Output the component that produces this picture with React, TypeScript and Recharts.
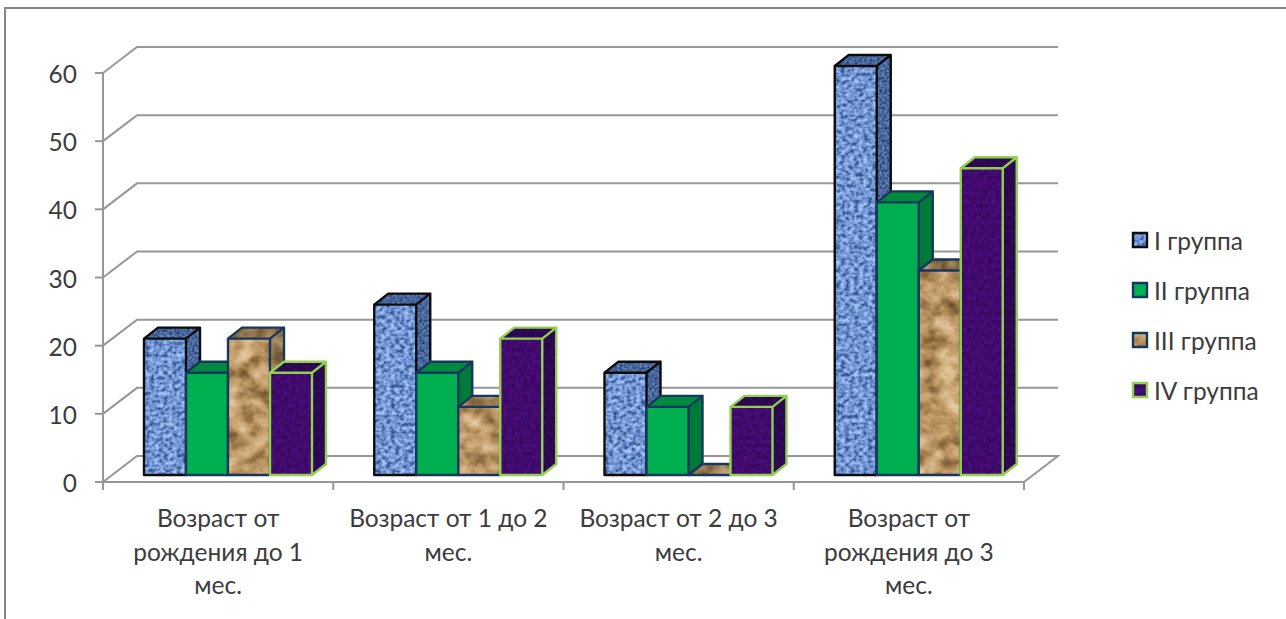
import { BarChart, Bar, XAxis, YAxis, CartesianGrid, Legend } from 'recharts';

const categoryLines = [
  ['Возраст от', 'рождения до 1', 'мес.'],
  ['Возраст от 1 до 2', 'мес.'],
  ['Возраст от 2 до 3', 'мес.'],
  ['Возраст от', 'рождения до 3', 'мес.'],
];
const categories = categoryLines.map(lines => lines.join(' '));

const groupOne = [20, 25, 15, 60];
const groupTwo = [15, 15, 10, 40];
const groupThree = [20, 10, 0, 30];
const groupFour = [15, 20, 10, 45];

const yTicks = [0, 10, 20, 30, 40, 50, 60];

const chartData = categories.map((name, i) => ({
  name,
  one: groupOne[i],
  two: groupTwo[i],
  three: groupThree[i],
  four: groupFour[i],
}));

const FONT = "Lato, 'Open Sans', sans-serif";
const FONT_SIZE = 24.5;
const TEXT = '#3c3c3c';
const AXIS = '#979797';
const FLOOR_Y = 482;

// perspective of the box: back wall relative to the axes, bars relative to the axes
const WALL_DX = 34;
const WALL_DY = -26;
const BAR_DX = 10;
const BAR_DY = -7;
const DEPTH_DX = 14;
const DEPTH_DY = -11;

type Faces = { front: string; side: string; top: string; stroke: string };

const series: { key: string; label: string; faces: Faces }[] = [
  { key: 'one', label: 'I группа', faces: { front: 'url(#denim)', side: 'url(#denimDark)', top: 'url(#denimDark)', stroke: '#0c0c0c' } },
  { key: 'two', label: 'II группа', faces: { front: '#00b050', side: '#007a38', top: '#008a3e', stroke: '#17375e' } },
  { key: 'three', label: 'III группа', faces: { front: 'url(#paper)', side: 'url(#paperDark)', top: 'url(#paperDark)', stroke: '#17375e' } },
  { key: 'four', label: 'IV группа', faces: { front: 'url(#velvet)', side: 'url(#velvetDark)', top: 'url(#velvetDark)', stroke: '#92d050' } },
];

function hexChannel(hex: string, start: number) {
  return (parseInt(hex.slice(start, start + 2), 16) / 255).toFixed(3);
}

// noise mapped through a colour ramp
function Texture({ id, freq, octaves, seed, ramp }: { id: string; freq: string; octaves: number; seed: number; ramp: string[] }) {
  const table = (start: number) => ramp.map(c => hexChannel(c, start)).join(' ');
  return (
    <filter id={id} x="0" y="0" width="100%" height="100%" colorInterpolationFilters="sRGB">
      <feTurbulence type="fractalNoise" baseFrequency={freq} numOctaves={octaves} seed={seed} />
      <feColorMatrix values="1 0 0 0 0  1 0 0 0 0  1 0 0 0 0  0 0 0 0 1" />
      <feComponentTransfer>
        <feFuncR type="table" tableValues={table(1)} />
        <feFuncG type="table" tableValues={table(3)} />
        <feFuncB type="table" tableValues={table(5)} />
      </feComponentTransfer>
      <feComposite in2="SourceGraphic" operator="in" />
    </filter>
  );
}

function Face({ d, paint }: { d: string; paint: string }) {
  if (paint.startsWith('url')) return <path d={d} fill="#000" filter={paint} />;
  return <path d={d} fill={paint} />;
}

function box(props: any, faces: Faces) {
  const { x, y, width, height } = props;
  const l = x + BAR_DX;
  const r = l + width;
  const t = y + BAR_DY;
  const b = t + height;
  const front = `M${l} ${t}H${r}V${b}H${l}Z`;
  const side = `M${r} ${t}L${r + DEPTH_DX} ${t + DEPTH_DY}V${b + DEPTH_DY}L${r} ${b}Z`;
  const top = `M${l} ${t}L${l + DEPTH_DX} ${t + DEPTH_DY}H${r + DEPTH_DX}L${r} ${t}Z`;
  return (
    <g>
      <Face d={top} paint={faces.top} />
      <Face d={side} paint={faces.side} />
      {height > 0 && <Face d={front} paint={faces.front} />}
      <path d={`${top}${side}${front}`} fill="none" stroke={faces.stroke} strokeWidth={2.4} strokeLinejoin="round" />
    </g>
  );
}

// wall and floor line for one tick: up the side wall, then along the back wall
function wallLine(props: any) {
  const { x1, x2, y1, index } = props;
  const bx = x1 + WALL_DX;
  const by = y1 + WALL_DY;
  const isFloor = Math.abs(y1 - FLOOR_Y) < 1;
  const d = `M${x1} ${y1}L${bx} ${by}H${x2 + WALL_DX}${isFloor ? `L${x2} ${y1}` : ''}`;
  return <path key={index} d={d} fill="none" stroke={AXIS} strokeWidth={2} />;
}

function CategoryTick(props: any) {
  const { x, payload, index, width } = props;
  const step = width / categories.length;
  const lines = categoryLines[index] ?? [];
  const tick = (tx: number) => <line x1={tx} x2={tx} y1={FLOOR_Y} y2={FLOOR_Y + 8} stroke={AXIS} strokeWidth={2} />;
  return (
    <g key={payload.value}>
      {tick(x - step / 2)}
      {index === categories.length - 1 && tick(x + step / 2)}
      {lines.map((line, i) => (
        <text key={line} x={x} y={527 + i * 33.7} textAnchor="middle" fontSize={FONT_SIZE} fontFamily={FONT} fill={TEXT}>
          {line}
        </text>
      ))}
    </g>
  );
}

function ValueTick(props: any) {
  const { x, y, payload } = props;
  return (
    <text x={x} y={y + 10} textAnchor="end" fontSize={FONT_SIZE} fontFamily={FONT} fill={TEXT}>
      {payload.value}
    </text>
  );
}

function GroupLegend() {
  return (
    <div style={{ fontFamily: FONT, fontSize: FONT_SIZE, color: TEXT }}>
      {series.map(s => (
        <div key={s.key} style={{ display: 'flex', alignItems: 'center', height: 50 }}>
          <svg width={18} height={18} style={{ marginRight: 5 }}>
            <Face d="M1 1H17V17H1Z" paint={s.faces.front} />
            <path d="M2 2H16V16H2Z" fill="none" stroke={s.faces.stroke} strokeWidth={2.4} />
          </svg>
          {s.label}
        </div>
      ))}
    </div>
  );
}

export default function App() {
  return (
    <div style={{ position: 'absolute', left: 0, top: 0, width: 1286, height: 619, overflow: 'hidden', background: '#fff' }}>
      <div style={{ position: 'absolute', left: 4, top: 7, width: 1400, height: 700, borderLeft: '2px solid #868686', borderTop: '2px solid #868686' }} />
      <BarChart
        width={1286}
        height={619}
        data={chartData}
        margin={{ top: 73, right: 262, bottom: 0, left: 0 }}
        barCategoryGap={31}
        barGap={0}
        style={{ position: 'absolute', left: 0, top: 0 }}
      >
        <defs>
          <Texture id="denim" freq="0.22 0.26" octaves={2} seed={4} ramp={['#1f3d78', '#34568f', '#7396d6', '#a5c4f8', '#b8d4fc']} />
          <Texture id="denimDark" freq="0.4" octaves={2} seed={9} ramp={['#142a52', '#26426f', '#48679e', '#6a89bf', '#7d9bd0']} />
          <Texture id="paper" freq="0.05 0.06" octaves={5} seed={7} ramp={['#4e3216', '#86643a', '#c09a68', '#e0c197', '#f0d8b4']} />
          <Texture id="paperDark" freq="0.06" octaves={4} seed={2} ramp={['#4a3218', '#6f5330', '#94774e', '#b59a72', '#c6ad88']} />
          <Texture id="velvet" freq="0.25" octaves={3} seed={5} ramp={['#2c0650', '#37085f', '#420a6e', '#4c0f7c', '#551488']} />
          <Texture id="velvetDark" freq="0.3" octaves={2} seed={8} ramp={['#1e033a', '#260548', '#2e0854', '#350c60', '#3c1068']} />
        </defs>
        <CartesianGrid vertical={false} horizontal={wallLine} />
        <XAxis
          dataKey="name"
          height={137}
          interval={0}
          tick={CategoryTick}
          tickLine={false}
          axisLine={{ stroke: AXIS, strokeWidth: 2 }}
        />
        <YAxis
          width={103}
          domain={[0, 60]}
          ticks={yTicks}
          interval={0}
          tickSize={8}
          tickMargin={18}
          axisLine={{ stroke: AXIS, strokeWidth: 2 }}
          tickLine={{ stroke: AXIS, strokeWidth: 2 }}
          tick={ValueTick}
        />
        {series.map(s => (
          <Bar key={s.key} dataKey={s.key} name={s.label} isAnimationActive={false} shape={(p: any) => box(p, s.faces)} />
        ))}
        <Legend
          layout="vertical"
          align="center"
          verticalAlign="middle"
          content={<GroupLegend />}
          wrapperStyle={{ position: 'absolute', left: 1131, top: 215, width: 150 }}
        />
      </BarChart>
    </div>
  );
}
